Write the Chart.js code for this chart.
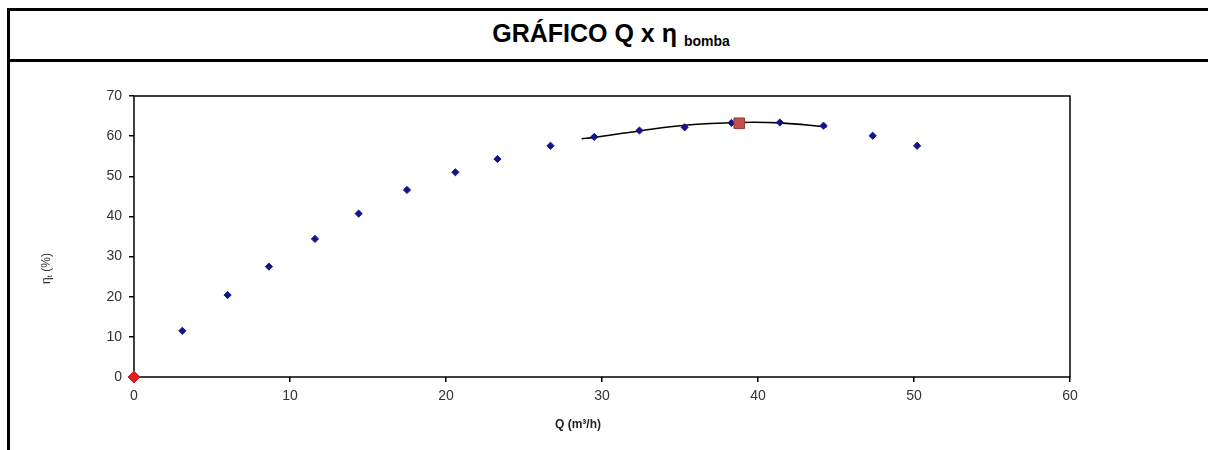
<!DOCTYPE html>
<html>
<head>
<meta charset="utf-8">
<script src="https://cdn.jsdelivr.net/npm/chart.js@4"></script>
<style>
  html, body { margin: 0; padding: 0; background: #fff; width: 1208px; height: 450px; overflow: hidden; }
  #frame { position: absolute; left: 7px; top: 8px; width: 1210px; height: 460px; border-left: 3px solid #000; border-top: 3px solid #000; }
  #header { position: absolute; left: 10px; top: 11px; width: 1198px; height: 48px; border-bottom: 3px solid #000; }
  #title { position: absolute; left: 0; width: 1198px; top: 8px; text-align: center; font-family: "Liberation Sans", Arial, sans-serif; font-weight: bold; font-size: 25px; color: #000; padding-left: 4px; box-sizing: border-box; }
  #title sub { font-size: 14px; vertical-align: -4px; }
  #wrap { position: absolute; left: 10px; top: 62px; width: 1198px; height: 388px; }
</style>
</head>
<body>
<div id="frame"></div>
<div id="header"><div id="title">GRÁFICO Q x η <sub>bomba</sub></div></div>
<div id="wrap"><canvas id="c" width="1198" height="388"></canvas></div>
<script>
// Pump efficiency points
const qPump = [3.1, 6.0, 8.65, 11.6, 14.4, 17.5, 20.6, 23.3, 26.7, 29.5, 32.4, 35.3, 38.3, 41.4, 44.2, 47.35, 50.2];
const etaPump = [11.5, 20.4, 27.5, 34.4, 40.7, 46.6, 51.0, 54.3, 57.6, 59.8, 61.4, 62.2, 63.3, 63.4, 62.6, 60.1, 57.6];
// Trend line
const trendQ = [28.7, 29.5, 32.4, 35.3, 38.8, 41.4, 44.4];
const trendEta = [59.35, 59.7, 61.3, 62.7, 63.4, 63.3, 62.3];
// Operating point and origin
const opQ = [38.8];
const opEta = [63.2];
const originQ = [0];
const originEta = [0];
// Axes
const xTicks = [0, 10, 20, 30, 40, 50, 60];
const yTicks = [0, 10, 20, 30, 40, 50, 60, 70];

const toXY = (xs, ys) => xs.map((x, i) => ({ x: x, y: ys[i] }));

const boxPlugin = {
  id: 'box',
  beforeDatasetsDraw(chart) {
    const a = chart.chartArea, ctx = chart.ctx;
    ctx.save();
    ctx.strokeStyle = '#000';
    ctx.lineWidth = 1.5;
    ctx.strokeRect(a.left, a.top, a.right - a.left, a.bottom - a.top);
    ctx.restore();
  },
  afterDraw(chart) {
    const a = chart.chartArea, ctx = chart.ctx;
    ctx.save();
    ctx.fillStyle = '#222';
    // X axis title: Q (m³/h)
    ctx.font = 'bold 12px "Liberation Sans", Arial, sans-serif';
    ctx.textAlign = 'center';
    ctx.textBaseline = 'middle';
    ctx.fillText('Q (m³/h)', (a.left + a.right) / 2 - 24, 363);
    // Y axis title: ηt (%)
    ctx.fillStyle = '#333';
    ctx.translate(37, (a.top + a.bottom) / 2 + 32);
    ctx.rotate(-Math.PI / 2);
    ctx.font = '12px "Liberation Sans", Arial, sans-serif';
    const w1 = ctx.measureText('η').width;
    ctx.font = '8px "Liberation Sans", Arial, sans-serif';
    const w2 = ctx.measureText('t').width;
    ctx.font = '12px "Liberation Sans", Arial, sans-serif';
    const w3 = ctx.measureText(' (%)').width;
    let x0 = -(w1 + w2 + w3) / 2;
    ctx.textAlign = 'left';
    ctx.fillText('η', x0, 0);
    ctx.font = '8px "Liberation Sans", Arial, sans-serif';
    ctx.fillText('t', x0 + w1, 3);
    ctx.font = '12px "Liberation Sans", Arial, sans-serif';
    ctx.fillText(' (%)', x0 + w1 + w2, 0);
    ctx.restore();
  }
};

new Chart(document.getElementById('c'), {
  type: 'scatter',
  data: {
    datasets: [
      {
        label: 'Tendência',
        data: toXY(trendQ, trendEta),
        showLine: true,
        borderColor: '#000',
        borderWidth: 1.6,
        pointRadius: 0,
        tension: 0.4,
        order: 3
      },
      {
        label: 'η bomba',
        data: toXY(qPump, etaPump),
        pointStyle: 'rectRot',
        pointRadius: 3.6,
        backgroundColor: '#14148a',
        borderColor: '#14148a',
        borderWidth: 1,
        order: 2
      },
      {
        label: 'Ponto de operação',
        data: toXY(opQ, opEta),
        pointStyle: 'rect',
        pointRadius: 7.5,
        backgroundColor: '#c0504d',
        borderColor: '#8c3a38',
        borderWidth: 1,
        order: 1
      },
      {
        label: 'Origem',
        data: toXY(originQ, originEta),
        pointStyle: 'rectRot',
        pointRadius: 6,
        backgroundColor: '#e02020',
        borderColor: '#e02020',
        borderWidth: 1,
        clip: false,
        order: 0
      }
    ]
  },
  options: {
    responsive: false,
    animation: false,
    devicePixelRatio: 1,
    layout: { padding: { left: 0, top: 34, right: 138, bottom: 0 } },
    plugins: { legend: { display: false }, tooltip: { enabled: false }, title: { display: false } },
    scales: {
      x: {
        type: 'linear',
        min: 0, max: 60,
        afterBuildTicks(scale) { scale.ticks = xTicks.map(v => ({ value: v })); },
        afterFit(scale) { scale.height = 73; },
        grid: { display: true, drawOnChartArea: false, drawTicks: true, tickLength: 5, color: '#000', lineWidth: 1.5 },
        border: { display: false },
        ticks: { padding: 6, color: '#333', font: { family: '"Liberation Sans", Arial, sans-serif', size: 14 } }
      },
      y: {
        type: 'linear',
        min: 0, max: 70,
        afterBuildTicks(scale) { scale.ticks = yTicks.map(v => ({ value: v })); },
        afterFit(scale) { scale.width = 124; },
        grid: { display: true, drawOnChartArea: false, drawTicks: true, tickLength: 5, color: '#000', lineWidth: 1.5 },
        border: { display: false },
        ticks: { padding: 7, color: '#333', font: { family: '"Liberation Sans", Arial, sans-serif', size: 14 } }
      }
    }
  },
  plugins: [boxPlugin]
});
</script>
</body>
</html>
